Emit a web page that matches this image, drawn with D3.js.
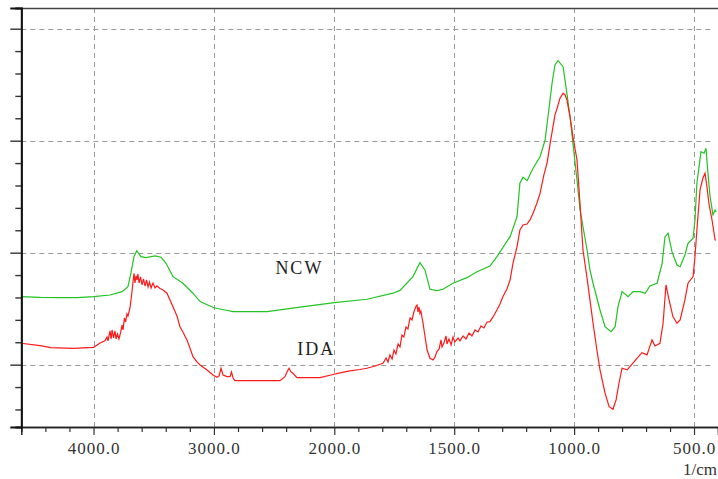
<!DOCTYPE html>
<html>
<head>
<meta charset="utf-8">
<script src="https://cdn.jsdelivr.net/npm/d3@7"></script>
<style>
  html, body { margin: 0; padding: 0; background: #fff; }
  svg { display: block; }
  .tick-label { font-family: "Liberation Serif", "Times New Roman", serif; font-size: 17px; fill: #333; letter-spacing: 1px; }
  .series-label { font-family: "Liberation Serif", "Times New Roman", serif; font-size: 18px; fill: #222; letter-spacing: 2px; }
</style>
</head>
<body>
<svg id="chart" width="718" height="479"></svg>
<script>
// Infrared spectra: wavenumber (1/cm) vs. absorbance-like intensity
const seriesNames = ["NCW", "IDA"];

const ncw = [
  [4600, 0.607], [4444, 0.600], [4278, 0.598], [4137, 0.598], [4000, 0.607],
  [3863, 0.622], [3763, 0.652], [3714, 0.696], [3689, 0.819], [3664, 0.964],
  [3641, 1.018], [3606, 0.964], [3564, 0.955], [3489, 0.971], [3439, 0.959],
  [3398, 0.905], [3340, 0.786], [3257, 0.727], [3174, 0.638], [3115, 0.563],
  [3000, 0.508], [2908, 0.488], [2841, 0.473], [2783, 0.473], [2559, 0.473],
  [2285, 0.513], [2000, 0.554], [1864, 0.584], [1755, 0.638], [1726, 0.663],
  [1672, 0.786], [1643, 0.911], [1622, 0.846], [1601, 0.673], [1572, 0.661],
  [1547, 0.673], [1505, 0.727], [1447, 0.777], [1405, 0.830], [1351, 0.881],
  [1322, 0.964], [1267, 1.143], [1238, 1.321], [1226, 1.620], [1213, 1.673],
  [1196, 1.643], [1171, 1.754], [1142, 1.857], [1121, 2.006], [1109, 2.214],
  [1092, 2.513], [1080, 2.676], [1067, 2.714], [1046, 2.661], [1030, 2.423],
  [1017, 2.214], [1005, 1.977], [988, 1.649], [975, 1.381], [946, 1.024],
  [934, 0.846], [921, 0.727], [892, 0.488], [871, 0.339], [846, 0.295],
  [829, 0.339], [817, 0.518], [800, 0.652], [775, 0.607], [754, 0.652],
  [725, 0.652], [704, 0.638], [684, 0.703], [654, 0.727], [633, 0.905],
  [621, 1.143], [608, 1.173], [592, 1.009], [571, 0.890], [558, 0.875],
  [538, 0.979], [525, 1.084], [504, 1.129], [496, 1.292], [488, 1.620],
  [479, 1.768], [471, 1.902], [458, 1.888], [450, 1.932], [442, 1.709],
  [433, 1.500], [421, 1.337], [412, 1.382], [408, 1.363]
];

const ida = [
  [4600, 0.191], [4444, 0.170], [4353, 0.152], [4170, 0.146], [4000, 0.155],
  [3946, 0.194], [3905, 0.214], [3888, 0.247], [3880, 0.212], [3863, 0.301],
  [3854, 0.230], [3846, 0.310], [3834, 0.238], [3822, 0.301], [3813, 0.230],
  [3801, 0.274], [3789, 0.230], [3776, 0.283], [3763, 0.354], [3755, 0.310],
  [3743, 0.417], [3734, 0.381], [3722, 0.453], [3714, 0.435], [3697, 0.506],
  [3681, 0.649], [3664, 0.816], [3656, 0.729], [3647, 0.792], [3639, 0.756],
  [3631, 0.810], [3622, 0.729], [3610, 0.783], [3597, 0.712], [3585, 0.765],
  [3572, 0.702], [3560, 0.756], [3547, 0.694], [3535, 0.738], [3522, 0.685],
  [3506, 0.729], [3489, 0.685], [3473, 0.703], [3448, 0.680], [3423, 0.667],
  [3390, 0.638], [3365, 0.578], [3340, 0.518], [3307, 0.435], [3282, 0.339],
  [3249, 0.274], [3224, 0.221], [3199, 0.149], [3174, 0.071], [3141, 0.024],
  [3115, -0.003], [3057, -0.047], [3008, -0.092], [2974, -0.112], [2957, -0.101],
  [2941, -0.032], [2924, -0.092], [2891, -0.107], [2866, -0.107], [2854, -0.065],
  [2841, -0.119], [2825, -0.143], [2451, -0.143], [2410, -0.107], [2393, -0.065],
  [2376, -0.032], [2360, -0.065], [2343, -0.077], [2310, -0.116], [2119, -0.116],
  [2011, -0.088], [1976, -0.074], [1935, -0.056], [1893, -0.043], [1864, -0.032],
  [1830, -0.012], [1797, 0.013], [1784, 0.060], [1776, 0.024], [1768, 0.087],
  [1759, 0.051], [1751, 0.131], [1743, 0.096], [1734, 0.185], [1726, 0.158],
  [1718, 0.265], [1710, 0.247], [1701, 0.337], [1693, 0.319], [1684, 0.417],
  [1676, 0.399], [1668, 0.471], [1659, 0.524], [1655, 0.533], [1651, 0.471],
  [1647, 0.515], [1643, 0.459], [1639, 0.479], [1630, 0.370], [1622, 0.256],
  [1613, 0.131], [1601, 0.057], [1588, 0.042], [1580, 0.069], [1572, 0.116],
  [1563, 0.140], [1555, 0.221], [1551, 0.158], [1543, 0.194], [1534, 0.256],
  [1530, 0.185], [1522, 0.230], [1513, 0.176], [1505, 0.247], [1497, 0.203],
  [1484, 0.238], [1476, 0.212], [1463, 0.256], [1451, 0.230], [1438, 0.283],
  [1426, 0.256], [1413, 0.310], [1401, 0.292], [1388, 0.346], [1376, 0.328],
  [1363, 0.381], [1351, 0.384], [1338, 0.426], [1322, 0.488], [1309, 0.542],
  [1297, 0.607], [1280, 0.676], [1267, 0.756], [1255, 0.905], [1238, 1.054],
  [1226, 1.203], [1213, 1.247], [1196, 1.256], [1184, 1.292], [1171, 1.352],
  [1155, 1.444], [1142, 1.530], [1126, 1.694], [1113, 1.798], [1101, 1.962],
  [1088, 2.125], [1080, 2.229], [1071, 2.289], [1059, 2.379], [1046, 2.423],
  [1038, 2.413], [1030, 2.363], [1017, 2.214], [1005, 2.036], [988, 1.828],
  [975, 1.426], [963, 1.024], [946, 0.774], [934, 0.578], [921, 0.370],
  [905, 0.131], [892, -0.047], [871, -0.255], [854, -0.375], [838, -0.398],
  [825, -0.315], [813, -0.166], [800, -0.032], [779, -0.047], [767, -0.018],
  [738, 0.057], [717, 0.107], [696, 0.087], [675, 0.221], [663, 0.167],
  [642, 0.191], [629, 0.370], [617, 0.712], [604, 0.578], [588, 0.429],
  [571, 0.370], [558, 0.399], [538, 0.578], [525, 0.727], [504, 0.786],
  [496, 0.964], [488, 1.203], [475, 1.560], [463, 1.664], [454, 1.709],
  [446, 1.589], [438, 1.441], [425, 1.292], [412, 1.113], [408, 1.113]
];

const xMajorTicks = [4000, 3000, 2000, 1500, 1000, 500];
const xMinorTicks = [4400, 4200, 3800, 3600, 3400, 3200, 2800, 2600, 2400, 2200,
  1900, 1800, 1700, 1600, 1400, 1300, 1200, 1100, 900, 800, 700, 600];
const yMajorTicks = [0, 1, 2, 3];
const yMinorTicks = [-0.4, -0.2, 0.2, 0.4, 0.6, 0.8, 1.2, 1.4, 1.6, 1.8,
  2.2, 2.4, 2.6, 2.8];
const xUnit = "1/cm";

const svg = d3.select("#chart");
const plotLeft = 21.3, plotRight = 718, plotTop = 8, plotBottom = 427, gridRight = 712;

// Two linear segments: the range below 2000 1/cm is stretched to twice the scale
const x = d3.scaleLinear().domain([4600, 2000, 400]).range([plotLeft, 334.3, plotRight]);
const y = d3.scaleLinear().domain([-0.5567, 3.1848]).range([plotBottom, plotTop]);

// Dashed grid
const grid = svg.append("g").attr("stroke", "#999").attr("stroke-width", 1)
  .attr("stroke-dasharray", "5,4").attr("fill", "none");
grid.selectAll("line.v").data(xMajorTicks).join("line").attr("class", "v")
  .attr("x1", d => Math.round(x(d)) + 0.5).attr("x2", d => Math.round(x(d)) + 0.5)
  .attr("y1", plotTop).attr("y2", plotBottom);
grid.selectAll("line.h").data(yMajorTicks).join("line").attr("class", "h")
  .attr("x1", plotLeft).attr("x2", gridRight)
  .attr("y1", d => Math.round(y(d)) + 0.5).attr("y2", d => Math.round(y(d)) + 0.5);

// Spectra
const line = d3.line().x(d => x(d[0])).y(d => y(d[1]));
svg.append("path").datum(ncw).attr("d", line)
  .attr("fill", "none").attr("stroke", "#22c322").attr("stroke-width", 1.2);
svg.append("path").datum(ida).attr("d", line)
  .attr("fill", "none").attr("stroke", "#ff1a1a").attr("stroke-width", 1.2);

// Frame top edge
svg.append("line").attr("x1", plotLeft).attr("x2", plotRight)
  .attr("y1", plotTop + 0.5).attr("y2", plotTop + 0.5)
  .attr("stroke", "#444").attr("stroke-width", 1.5);

// Bottom axis
const xAxisMinor = d3.axisBottom(x).tickValues(xMinorTicks).tickSize(5).tickFormat("");
const xAxisMajor = d3.axisBottom(x).tickValues(xMajorTicks).tickSize(8).tickPadding(4)
  .tickFormat(d3.format(".1f"));
const gxm = svg.append("g").attr("transform", `translate(0,${plotBottom})`).call(xAxisMinor);
const gx = svg.append("g").attr("transform", `translate(0,${plotBottom})`).call(xAxisMajor);
[gxm, gx].forEach(g => {
  g.attr("font-size", null).attr("font-family", null);
  g.select(".domain").attr("stroke", "#222").attr("stroke-width", 1.5);
  g.selectAll(".tick line").attr("stroke", "#333").attr("stroke-width", 1.2);
});
gx.selectAll(".tick text").attr("class", "tick-label").attr("dy", "0.9em");

// Left axis (no labels)
const yAxisMinor = d3.axisLeft(y).tickValues(yMinorTicks).tickSize(6).tickFormat("");
const yAxisMajor = d3.axisLeft(y).tickValues(yMajorTicks).tickSize(11).tickFormat("");
const gym = svg.append("g").attr("transform", `translate(${plotLeft},0)`).call(yAxisMinor);
const gy = svg.append("g").attr("transform", `translate(${plotLeft},0)`).call(yAxisMajor);
[gym, gy].forEach(g => {
  g.select(".domain").attr("stroke", "#111").attr("stroke-width", 1.8);
  g.selectAll(".tick line").attr("stroke", "#333").attr("stroke-width", 1.4);
});

// Unit label
svg.append("text").attr("class", "tick-label").attr("x", 717).attr("y", 475)
  .attr("text-anchor", "end").style("letter-spacing", "0px").text(xUnit);

// Series labels, placed in data coordinates (wavenumber, intensity)
const labelPos = [[2290, 0.81], [2150, 0.087]];
svg.selectAll("text.series-label").data(seriesNames).join("text")
  .attr("class", "series-label")
  .attr("x", (d, i) => x(labelPos[i][0])).attr("y", (d, i) => y(labelPos[i][1]))
  .attr("text-anchor", "middle").text(d => d);
</script>
</body>
</html>
